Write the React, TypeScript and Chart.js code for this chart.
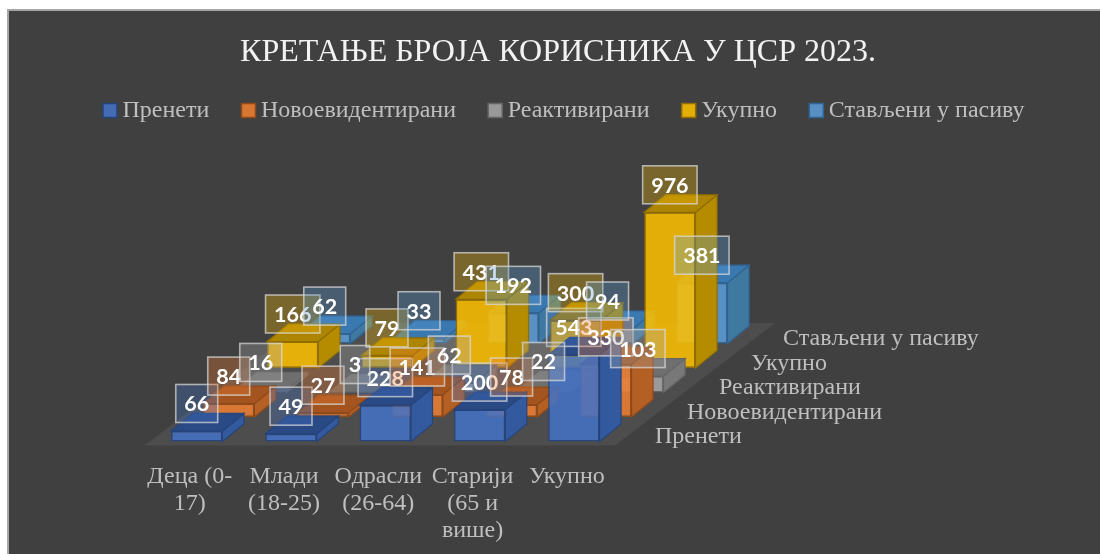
import React, { useEffect, useRef } from "react";
import { Chart, registerables } from "chart.js";

Chart.register(...registerables);

const titleText = "КРЕТАЊЕ БРОЈА КОРИСНИКА У ЦСР 2023.";
const categories = [["Деца (0-", "17)"], ["Млади", "(18-25)"], ["Одрасли", "(26-64)"], ["Старији", "(65 и", "више)"], ["Укупно"]];
const seriesNames = ["Пренети", "Новоевидентирани", "Реактивирани", "Укупно", "Стављени у пасиву"];
const prenetiValues = [66, 49, 228, 200, 543];
const novoValues = [84, 27, 141, 78, 330];
const reaktValues = [16, 3, 62, 22, 103];
const ukupnoValues = [166, 79, 431, 300, 976];
const pasivValues = [62, 33, 192, 94, 381];
const seriesValues = [prenetiValues, novoValues, reaktValues, ukupnoValues, pasivValues];

const fronts = ["rgba(68,114,196,0.88)", "rgba(237,125,49,0.88)", "rgba(165,165,165,0.88)", "rgba(255,192,0,0.86)", "rgba(91,155,213,0.88)"];
const edges = ["#26447c", "#8f4a1a", "#666666", "#8f6d00", "#2f6496"];
const tops = ["#2a4a86", "#a4541f", "#6f6f6f", "#ad8500", "#3a78b0"];
const sides = ["#335a9e", "#b45f24", "#787878", "#b58c00", "#40799f"];
const labelFills = ["rgba(68,114,196,0.32)", "rgba(237,125,49,0.32)", "rgba(165,165,165,0.32)", "rgba(255,192,0,0.3)", "rgba(91,155,213,0.32)"];

const ROW_DX = 32;
const ROW_DY = -24.5;
const FACE_DX = 21.5;
const FACE_DY = -17.5;
const LABEL_GAP = 27.5;
const SERIF = "'Liberation Serif', serif";

function poly(ctx: CanvasRenderingContext2D, pts: number[][], fill: string, stroke: string) {
  ctx.beginPath();
  pts.forEach((p, i) => (i ? ctx.lineTo(p[0], p[1]) : ctx.moveTo(p[0], p[1])));
  ctx.closePath();
  ctx.fillStyle = fill;
  ctx.fill();
  ctx.strokeStyle = stroke;
  ctx.lineWidth = 1.2;
  ctx.stroke();
}

const scene = {
  id: "scene",
  afterLayout(chart: any) {
    chart.legend.left += 9;
    chart.legend.right += 9;
  },
  beforeDraw(chart: any) {
    const c = chart.ctx;
    c.save();
    c.fillStyle = "#ffffff";
    c.fillRect(0, 0, chart.width, chart.height);
    c.fillStyle = "#a6a6a6";
    c.fillRect(7, 9, chart.width, chart.height);
    c.fillStyle = "#404040";
    c.fillRect(9, 11, chart.width, chart.height);
    c.restore();
  },
  beforeDatasetsDraw(chart: any) {
    const c = chart.ctx;
    const { left, right } = chart.chartArea;
    const base = chart.scales.y.getPixelForValue(0);
    c.save();
    c.beginPath();
    c.moveTo(left - 5, base + 4);
    c.lineTo(right - 6, base + 4);
    c.lineTo(right - 6 + ROW_DX * 5, base + 4 + ROW_DY * 5);
    c.lineTo(left - 5 + ROW_DX * 5, base + 4 + ROW_DY * 5);
    c.closePath();
    c.fillStyle = "#4e4d4d";
    c.fill();
    c.restore();
  },
  beforeDatasetDraw(chart: any, args: any) {
    const c = chart.ctx;
    const i = args.index;
    c.save();
    c.translate(ROW_DX * i, ROW_DY * i);
    args.meta.data.forEach((el: any) => {
      const l = el.x - el.width / 2;
      const r = el.x + el.width / 2;
      poly(c, [[r, el.y], [r + FACE_DX, el.y + FACE_DY], [r + FACE_DX, el.base + FACE_DY], [r, el.base]], sides[i], edges[i]);
      poly(c, [[l, el.y], [l + FACE_DX, el.y + FACE_DY], [r + FACE_DX, el.y + FACE_DY], [r, el.y]], tops[i], edges[i]);
    });
  },
  afterDatasetDraw(chart: any) {
    chart.ctx.restore();
  },
  afterDatasetsDraw(chart: any) {
    const c = chart.ctx;
    const base = chart.scales.y.getPixelForValue(0);
    c.save();
    // names of the depth axis, one per row
    c.font = `24px ${SERIF}`;
    c.fillStyle = "#bfbfbf";
    c.textAlign = "left";
    c.textBaseline = "middle";
    seriesNames.forEach((name, i) => {
      c.fillText(name, chart.chartArea.right + 34 + ROW_DX * i, base - 4.5 + ROW_DY * i);
    });
    // value labels, back rows painted over front rows
    c.font = "700 21.5px Lato, sans-serif";
    c.textAlign = "center";
    seriesValues.forEach((vals, i) => {
      const meta = chart.getDatasetMeta(i);
      vals.forEach((v, j) => {
        const el = meta.data[j];
        const text = String(v);
        const w = c.measureText(text).width + 17;
        const h = 38;
        const cx = el.x + ROW_DX * i;
        const cy = el.y + ROW_DY * i - LABEL_GAP;
        c.fillStyle = labelFills[i];
        c.fillRect(cx - w / 2, cy - h / 2, w, h);
        c.strokeStyle = "rgba(217,217,217,0.72)";
        c.lineWidth = 1.6;
        c.strokeRect(cx - w / 2, cy - h / 2, w, h);
        c.fillStyle = "#ffffff";
        c.fillText(text, cx, cy + 1);
      });
    });
    c.restore();
  },
};

export default function App() {
  const ref = useRef<HTMLCanvasElement>(null);
  useEffect(() => {
    const chart = new Chart(ref.current!, {
      type: "bar",
      plugins: [scene],
      data: {
        labels: categories,
        datasets: seriesNames.map((name, i) => ({
          label: name,
          data: seriesValues[i],
          grouped: false,
          clip: false,
          barPercentage: 0.545,
          categoryPercentage: 1,
          backgroundColor: fronts[i],
          borderColor: edges[i],
          borderWidth: 1.5,
          borderSkipped: false,
        })),
      } as any,
      options: {
        responsive: false,
        animation: false,
        layout: { padding: { left: 16 } },
        plugins: {
          tooltip: { enabled: false },
          title: {
            display: true,
            text: titleText,
            color: "#f2f2f2",
            font: { family: SERIF, size: 32, weight: "normal", lineHeight: 1.2 },
            padding: { top: 33, bottom: -11.6 },
          },
          legend: {
            display: true,
            labels: {
              color: "#bfbfbf",
              font: { family: SERIF, size: 24 },
              usePointStyle: true,
              pointStyle: "rect",
              boxWidth: 1,
              boxHeight: 14,
              padding: 38.7,
            },
          },
        },
        scales: {
          x: {
            grid: { display: false },
            border: { display: false },
            ticks: {
              color: "#bfbfbf",
              maxRotation: 0,
              autoSkip: false,
              padding: 14,
              labelOffset: -7,
              font: { family: SERIF, size: 24, lineHeight: 1.125 },
            },
            afterFit: (s: any) => { s.height = 112.5; },
          },
          y: {
            min: 0,
            max: 1937,
            grid: { display: false },
            border: { display: false },
            ticks: { display: false },
            afterFit: (s: any) => { s.width = 133.6; },
          },
          y2: {
            position: "right",
            grid: { display: false },
            border: { display: false },
            ticks: { display: false },
            afterFit: (s: any) => { s.width = 479; },
          },
        },
      } as any,
    });
    return () => chart.destroy();
  }, []);
  return <canvas ref={ref} width={1100} height={554} style={{ position: "fixed", left: 0, top: 0, display: "block" }} />;
}
